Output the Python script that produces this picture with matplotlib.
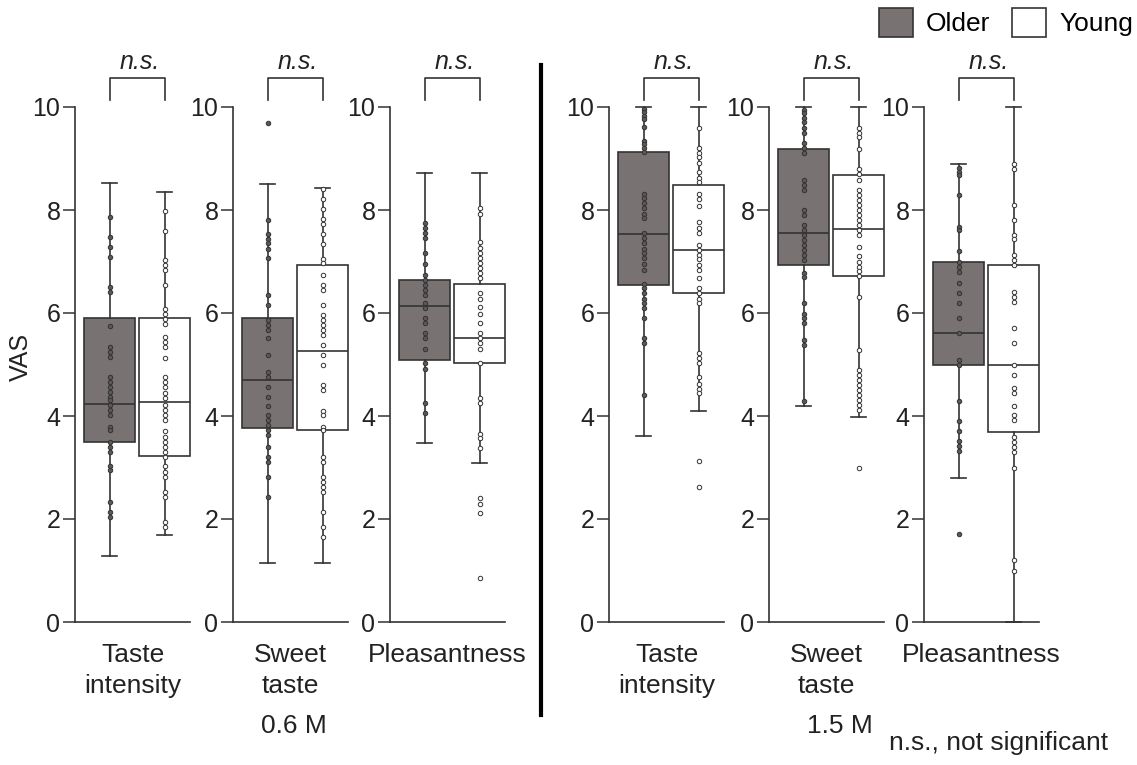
import numpy as np
import matplotlib
matplotlib.use('Agg')
import matplotlib.pyplot as plt
from matplotlib.patches import Patch
from matplotlib.lines import Line2D

plt.rcParams['font.family'] = ['Liberation Sans', 'DejaVu Sans']

W, H = 1137, 765

panels = ['Taste\nintensity', 'Sweet\ntaste', 'Pleasantness',
          'Taste\nintensity', 'Sweet\ntaste', 'Pleasantness']
concentrations = ['0.6 M', '1.5 M']
groups = ['Older', 'Young']
sig = ['n.s.'] * 6

# whisker low, q1, median, q3, whisker high
older_stats = [
    [1.29, 3.49, 4.23, 5.90, 8.52],
    [1.15, 3.77, 4.69, 5.91, 8.50],
    [3.47, 5.09, 6.14, 6.64, 8.71],
    [3.61, 6.54, 7.53, 9.13, 10.0],
    [4.19, 6.93, 7.56, 9.19, 10.0],
    [2.80, 5.00, 5.61, 6.99, 8.89],
]
young_stats = [
    [1.69, 3.22, 4.27, 5.90, 8.34],
    [1.15, 3.73, 5.26, 6.93, 8.43],
    [3.09, 5.02, 5.51, 6.57, 8.71],
    [4.10, 6.38, 7.22, 8.49, 10.0],
    [3.99, 6.72, 7.64, 8.67, 10.0],
    [0.00, 3.68, 5.00, 6.94, 10.0],
]

# individual scores
older_pts = [
    [7.87, 7.47, 7.28, 7.09, 6.50, 6.41, 5.74, 5.34, 5.24, 5.15, 4.76, 4.66, 4.56, 4.47,
     4.37, 4.31, 4.21, 4.12, 4.02, 3.79, 3.73, 3.50, 3.40, 3.31, 3.02, 2.95, 2.33, 2.14, 2.04],
    [9.68, 7.81, 7.53, 7.44, 7.35, 7.25, 7.06, 6.34, 6.15, 5.86, 5.76, 5.67, 5.51, 5.19,
     4.86, 4.76, 4.57, 4.37, 4.19, 4.02, 3.92, 3.82, 3.73, 3.63, 3.40, 3.21, 3.11, 2.82, 2.43],
    [7.75, 7.65, 7.56, 7.46, 7.16, 6.96, 6.73, 6.64, 6.54, 6.44, 6.35, 6.19, 6.09, 5.90,
     5.80, 5.61, 5.51, 5.31, 5.02, 4.92, 4.25, 4.05],
    [9.96, 9.90, 9.83, 9.77, 9.61, 9.34, 9.28, 9.21, 9.13, 8.32, 8.23, 8.13, 8.03, 7.93,
     7.84, 7.55, 7.45, 7.35, 7.25, 7.16, 7.06, 6.96, 6.83, 6.57, 6.48, 6.38, 6.28, 6.19,
     6.09, 5.90, 5.51, 5.41, 4.41],
    [9.95, 9.89, 9.79, 9.70, 9.60, 9.50, 9.31, 9.21, 9.11, 8.59, 8.49, 8.39, 8.00, 7.90,
     7.71, 7.61, 7.52, 7.42, 7.32, 7.22, 7.13, 7.03, 6.77, 6.70, 6.19, 5.99, 5.90, 5.80,
     5.48, 5.38, 4.30],
    [8.81, 8.74, 8.68, 8.30, 7.67, 7.61, 7.20, 7.00, 6.90, 6.80, 6.59, 6.39, 6.20, 5.91,
     5.61, 5.09, 4.99, 4.30, 3.90, 3.71, 3.51, 3.41, 3.32, 1.70],
]
young_pts = [
    [7.98, 7.59, 7.03, 6.94, 6.84, 6.54, 6.07, 5.98, 5.88, 5.79, 5.53, 5.43, 5.34, 5.12,
     4.75, 4.66, 4.56, 4.44, 4.34, 4.21, 4.12, 4.02, 3.92, 3.70, 3.60, 3.50, 3.40, 3.31,
     3.21, 3.02, 2.92, 2.82, 2.53, 2.43, 1.95, 1.85],
    [8.41, 8.21, 8.02, 7.82, 7.73, 7.53, 7.34, 7.04, 6.97, 6.74, 6.54, 6.44, 6.15, 5.96,
     5.86, 5.76, 5.67, 5.57, 5.38, 5.18, 4.99, 4.60, 4.51, 4.09, 4.02, 3.79, 3.73, 3.21,
     3.11, 2.82, 2.72, 2.63, 2.53, 2.14, 1.85, 1.66],
    [8.03, 7.93, 7.37, 7.27, 7.17, 7.07, 6.98, 6.88, 6.78, 6.68, 6.38, 6.28, 6.12, 5.99,
     5.80, 5.61, 5.51, 5.41, 5.31, 5.03, 4.35, 4.25, 3.66, 3.57, 3.37, 2.40, 2.30, 2.11, 0.85],
    [9.60, 9.21, 9.11, 9.02, 8.92, 8.73, 8.63, 8.54, 8.31, 8.21, 8.08, 7.76, 7.66, 7.56,
     7.33, 7.23, 7.13, 7.04, 6.94, 6.84, 6.67, 6.48, 6.38, 6.28, 6.19, 5.22, 5.12, 5.02,
     4.76, 4.63, 4.53, 4.44, 3.12, 2.63],
    [9.60, 9.50, 9.41, 9.18, 8.79, 8.69, 8.59, 8.39, 8.29, 8.19, 8.10, 8.00, 7.90, 7.81,
     7.71, 7.61, 7.51, 7.29, 7.10, 7.00, 6.90, 6.81, 6.71, 6.31, 5.28, 4.89, 4.79, 4.70,
     4.60, 4.50, 4.41, 4.31, 4.21, 4.11, 2.99],
    [8.89, 8.79, 8.10, 7.81, 7.52, 7.43, 7.12, 7.02, 6.93, 6.41, 6.31, 6.22, 5.70, 5.41,
     5.00, 4.80, 4.54, 4.44, 4.19, 4.02, 3.92, 3.60, 3.50, 3.40, 3.31, 3.00, 1.20, 0.99],
]

GRAY = '#797272'
EDGE = '#333333'
pos = [0.30, 0.78]

fig = plt.figure(figsize=(W / 100, H / 100), dpi=100)

lefts = [75, 233, 390, 609, 769, 924]  # pixel x of each left spine
top, bottom, width = 107, 622, 115


def stat_dict(s):
    return dict(whislo=s[0], q1=s[1], med=s[2], q3=s[3], whishi=s[4], fliers=[])


for i, lx in enumerate(lefts):
    ax = fig.add_axes([lx / W, 1 - bottom / H, width / W, (bottom - top) / H])
    stats = [stat_dict(older_stats[i]), stat_dict(young_stats[i])]
    res = ax.bxp(stats, positions=pos, widths=0.44, patch_artist=True,
                 showfliers=False, manage_ticks=False, capwidths=0.13,
                 boxprops=dict(edgecolor=EDGE, linewidth=1.2),
                 whiskerprops=dict(color=EDGE, linewidth=1.2),
                 capprops=dict(color=EDGE, linewidth=1.2),
                 medianprops=dict(color=EDGE, linewidth=1.2))
    res['boxes'][0].set_facecolor(GRAY)
    res['boxes'][1].set_facecolor('white')
    for b in res['boxes'] + res['whiskers'] + res['caps'] + res['medians']:
        b.set_clip_on(False)

    ax.plot(np.full(len(older_pts[i]), pos[0]), older_pts[i], 'o', ms=3.2,
            mfc='#5e5858', mec=EDGE, mew=0.7, zorder=4, clip_on=False)
    ax.plot(np.full(len(young_pts[i]), pos[1]), young_pts[i], 'o', ms=3.2,
            mfc='white', mec=EDGE, mew=0.7, zorder=4, clip_on=False)

    # significance bracket
    ax.plot([pos[0], pos[0], pos[1], pos[1]], [10.14, 10.56, 10.56, 10.14],
            color=EDGE, lw=1.2, clip_on=False)
    ax.text(sum(pos) / 2 + 0.02, 10.64, sig[i], ha='center', va='bottom',
            style='italic', fontsize=18, color='#222222')

    ax.set_xlim(0, 1.0)
    ax.set_ylim(0, 10)
    ax.set_yticks([0, 2, 4, 6, 8, 10])
    ax.tick_params(axis='y', length=8.5, width=1.1, color=EDGE, labelsize=18,
                   labelcolor='#222222', pad=2)
    ax.tick_params(axis='x', bottom=False, labelbottom=False)
    for s in ['top', 'right']:
        ax.spines[s].set_visible(False)
    for s in ['left', 'bottom']:
        ax.spines[s].set_color(EDGE)
        ax.spines[s].set_linewidth(1.2)
    ax.set_facecolor('none')

    ax.text(0.5, -0.04, panels[i], transform=ax.transAxes, ha='center', va='top',
            fontsize=19, linespacing=1.4, color='#222222')

    if i == 0:
        ax.set_ylabel('VAS', fontsize=18, color='#222222')
        ax.yaxis.set_label_coords((33 - 75) / width, (622 - 357) / (bottom - top))

fig.text(294 / W, 1 - 733 / H, concentrations[0], ha='center', va='baseline',
         fontsize=19, color='#222222')
fig.text(840 / W, 1 - 733 / H, concentrations[1], ha='center', va='baseline',
         fontsize=19, color='#222222')

fig.add_artist(Line2D([541 / W, 541 / W], [1 - 65 / H, 1 - 715 / H],
                      color='black', lw=3))

handles = [Patch(facecolor=GRAY, edgecolor=EDGE, lw=1.2),
           Patch(facecolor='white', edgecolor=EDGE, lw=1.2)]
fig.legend(handles, groups, loc='upper right', bbox_to_anchor=(1133 / W, 1 - 8 / H),
           ncol=2, frameon=False, fontsize=19, handlelength=1.3, handleheight=1.3,
           handletextpad=0.5, columnspacing=0.8, borderpad=0, borderaxespad=0)

fig.text(1108 / W, 1 - 750 / H, 'n.s., not significant', ha='right', va='baseline',
         fontsize=19, color='#222222')

fig.savefig('out.png', dpi=100)
